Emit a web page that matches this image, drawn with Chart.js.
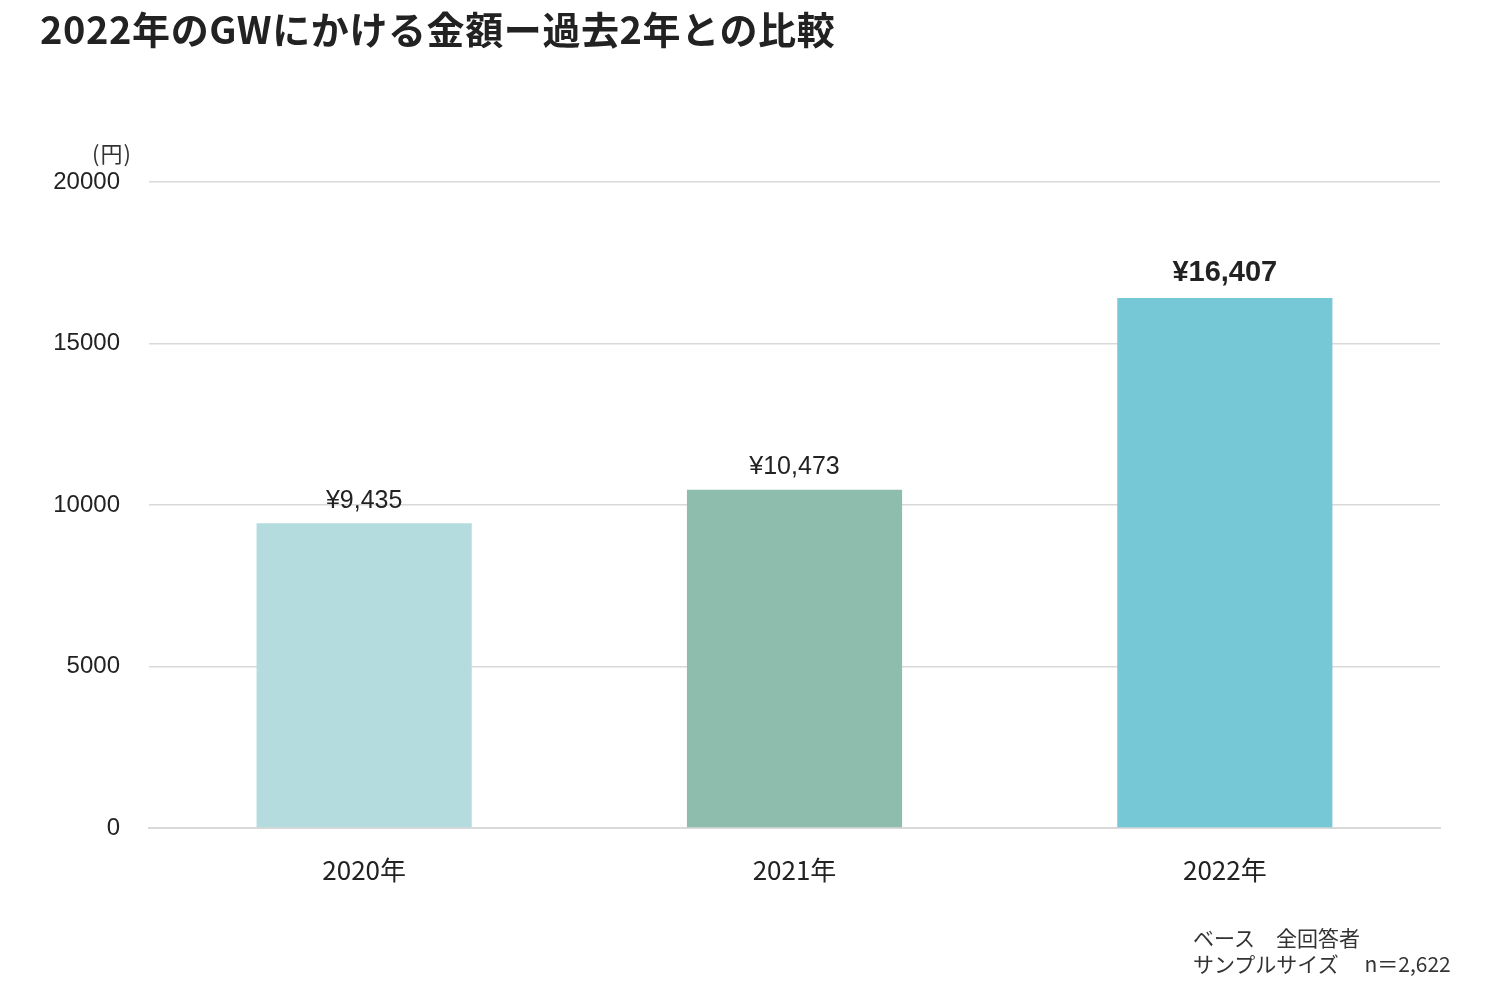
<!DOCTYPE html>
<html><head><meta charset="utf-8">
<script src="https://cdn.jsdelivr.net/npm/chart.js@4/dist/chart.umd.min.js"></script>
<style>
html,body{margin:0;padding:0;background:#fff;}
#wrap{position:relative;width:1500px;height:992px;overflow:hidden;}
#c{position:absolute;left:0;top:0;}
#title{position:absolute;left:40px;top:0px;font-family:"Noto Sans CJK JP";font-weight:bold;font-size:38px;color:#222;white-space:nowrap;letter-spacing:0.6px;}
#unit{position:absolute;left:92px;top:136px;font-family:"Noto Sans CJK JP";font-size:22px;color:#333;letter-spacing:1px;}
#note{position:absolute;left:1193px;top:924px;font-family:"Noto Sans CJK JP";font-size:21px;line-height:26px;color:#333;white-space:pre;}
</style></head>
<body><div id="wrap">
<canvas id="c" width="1500" height="992"></canvas>
<div id="title">2022年のGWにかける金額ー過去2年との比較</div>
<div id="unit">(円)</div>
<div id="note">ベース　全回答者
サンプルサイズ　 n＝2,622</div>
</div>
<script>
const categories = ["2020年", "2021年", "2022年"];
const amounts = [9435, 10473, 16407];
const valueLabels = ["¥9,435", "¥10,473", "¥16,407"];
const barColors = ["#b4dcdf", "#8fbdad", "#76c8d6"];
const yTicks = [0, 5000, 10000, 15000, 20000];

const labelPlugin = {
  id: 'valueLabels',
  afterDatasetsDraw(chart) {
    const ctx = chart.ctx;
    const meta = chart.getDatasetMeta(0);
    ctx.save();
    ctx.textAlign = 'center';
    ctx.textBaseline = 'bottom';
    meta.data.forEach((bar, i) => {
      const last = i === meta.data.length - 1;
      ctx.fillStyle = '#222';
      ctx.font = last ? 'bold 29px "Liberation Sans"' : '25px "Liberation Sans"';
      ctx.fillText(valueLabels[i], bar.x, bar.y - (last ? 11 : 10));
    });
    ctx.restore();
  }
};

new Chart(document.getElementById('c'), {
  type: 'bar',
  data: {
    labels: categories,
    datasets: [{
      data: amounts,
      backgroundColor: barColors,
      borderWidth: 0,
      categoryPercentage: 1.0,
      barPercentage: 0.5
    }]
  },
  options: {
    responsive: false,
    animation: false,
    layout: { padding: { top: 182, right: 60, bottom: 104, left: 0 } },
    plugins: { legend: { display: false }, tooltip: { enabled: false } },
    scales: {
      x: {
        afterFit(s) { s.height = 60; },
        grid: { display: false, drawTicks: false },
        border: { display: true, color: '#d9d9d9', width: 2 },
        ticks: { color: '#222', font: { family: '"Noto Sans CJK JP"', size: 26 }, padding: 27 }
      },
      y: {
        min: 0, max: 20000,
        afterFit(s) { s.width = 149; },
        afterBuildTicks(s) { s.ticks = yTicks.map(v => ({ value: v })); },
        grid: { color: '#d9d9d9', lineWidth: 1.5, drawTicks: false },
        border: { display: false },
        ticks: { color: '#222', font: { family: '"Liberation Sans"', size: 24 }, padding: 29,
                 callback: v => String(v) }
      }
    }
  },
  plugins: [labelPlugin]
});
</script>
</body></html>
